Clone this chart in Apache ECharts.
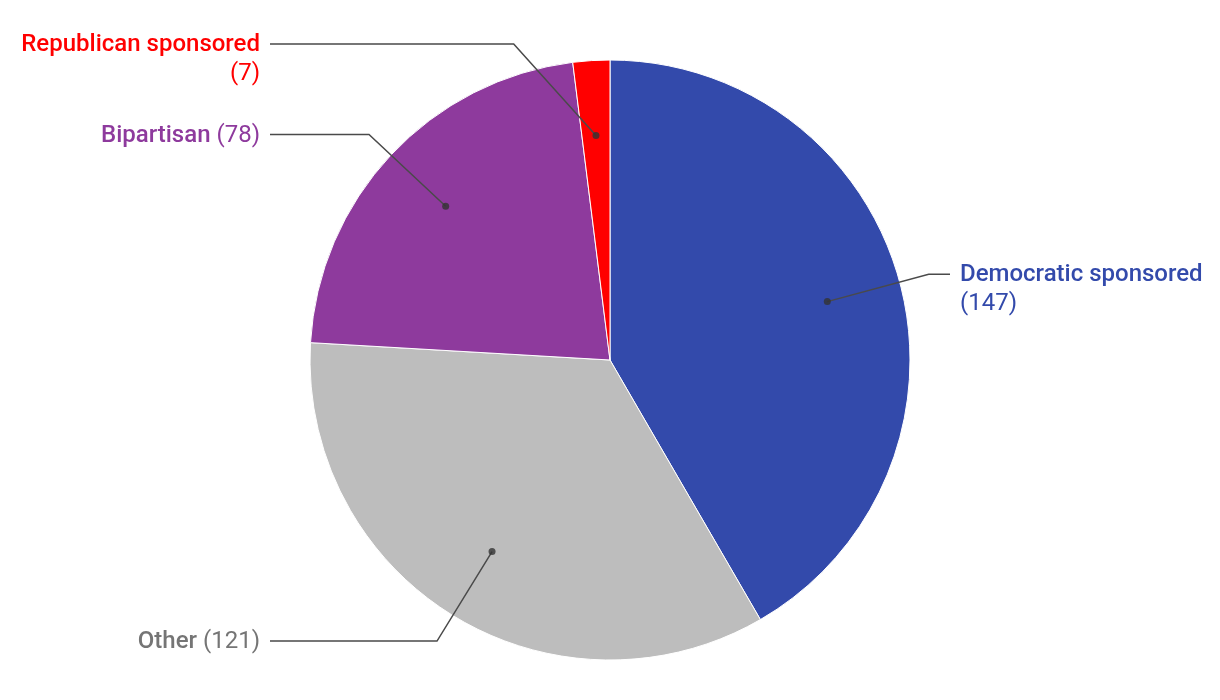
<!DOCTYPE html>
<html>
<head>
<meta charset="utf-8">
<script src="https://cdn.jsdelivr.net/npm/echarts@6/dist/echarts.min.js"></script>
<style>
  html, body { margin: 0; padding: 0; background: #ffffff; }
  #chart { width: 1220px; height: 700px; }
</style>
</head>
<body>
<div id="chart"></div>
<script>
// ---- data ----
const categories = ['Democratic sponsored', 'Other', 'Bipartisan', 'Republican sponsored'];
const values = [147, 121, 78, 7];
const sliceColors = ['#334AAB', '#BDBDBD', '#8E3A9D', '#FF0000'];
const labelColors = ['#334AAB', '#757575', '#8E3A9D', '#FF0000'];

// ---- layout / style constants ----
const CX = 610, CY = 360, R = 300;
const DOT_FRAC = 0.75;      // dot position as fraction of radius
const LEN1 = 105;           // first leader segment length
const LINE_REACH = 340;     // horizontal reach of leader end from centre
const TOP_LIMIT = 44;       // minimum y of leader elbow
const LH = 29;              // label line height
const FS = 24;              // label font size
const MAX_LABEL_W = 250;    // wrap label when wider than this
const NAME_WEIGHT = 500;
const FONT = 'Roboto, "Noto Sans", sans-serif';

const total = values.reduce((a, b) => a + b, 0);
const cum = [];
values.reduce((acc, v, i) => { cum[i] = acc; return acc + v; }, 0);
const mids = values.map((v, i) => cum[i] + v / 2);

const measureCtx = document.createElement('canvas').getContext('2d');
function textWidth(str, weight) {
  measureCtx.font = weight + ' ' + FS + 'px ' + FONT;
  return measureCtx.measureText(str).width;
}

const pieData = categories.map((name, i) => ({
  name: name,
  value: values[i],
  itemStyle: { color: sliceColors[i] },
  label: { color: labelColors[i] }
}));

const overlayData = categories.map((name, i) => ({
  name: name,
  value: values[i],
  label: { color: labelColors[i] }
}));

const chart = echarts.init(document.getElementById('chart'), null, { renderer: 'canvas' });

chart.setOption({
  backgroundColor: '#ffffff',
  animation: false,
  polar: { center: [CX, CY], radius: R },
  angleAxis: { type: 'value', min: 0, max: total, startAngle: 90, clockwise: true, show: false },
  radiusAxis: { type: 'value', min: 0, max: 1, show: false },
  series: [
    {
      type: 'pie',
      center: [CX, CY],
      radius: R,
      startAngle: 90,
      clockwise: true,
      silent: true,
      data: pieData,
      itemStyle: { borderColor: '#ffffff', borderWidth: 1 },
      label: { show: false },
      labelLine: { show: false },
      z: 1
    },
    {
      type: 'pie',
      center: [CX, CY],
      radius: R,
      startAngle: 90,
      clockwise: true,
      silent: true,
      data: overlayData,
      itemStyle: { color: 'rgba(0,0,0,0)', borderWidth: 0 },
      label: {
        show: true,
        fontFamily: FONT,
        fontSize: FS,
        lineHeight: LH,
        formatter: function (p) {
          const nameStr = p.name;
          const valStr = '(' + p.value + ')';
          const w = textWidth(nameStr, NAME_WEIGHT) + textWidth(' ' + valStr, 'normal');
          if (w > MAX_LABEL_W) {
            return '{n|' + nameStr + '}\n{v|' + valStr + '}';
          }
          return '{n|' + nameStr + '}{v| ' + valStr + '}';
        },
        rich: {
          n: { fontFamily: FONT, fontSize: FS, fontWeight: NAME_WEIGHT, lineHeight: LH },
          v: { fontFamily: FONT, fontSize: FS, fontWeight: 'normal', lineHeight: LH }
        }
      },
      labelLine: {
        show: true,
        length: 20,
        length2: 20,
        lineStyle: { color: '#4a4a4a', width: 1.5 }
      },
      labelLayout: function (p) {
        const i = p.dataIndex;
        const ang = mids[i] / total * 2 * Math.PI;
        const dx = Math.sin(ang), dy = -Math.cos(ang);
        const right = dx > 0;
        const sgn = right ? 1 : -1;
        const dotR = R * DOT_FRAC;
        const x0 = CX + dotR * dx, y0 = CY + dotR * dy;
        let x1 = x0 + LEN1 * dx, y1 = y0 + LEN1 * dy;
        if (y1 < TOP_LIMIT) {
          y1 = TOP_LIMIT;
          x1 = x0 + sgn * 0.9 * Math.abs(y0 - TOP_LIMIT);
        }
        const x2 = CX + sgn * LINE_REACH;
        return {
          x: x2 + sgn * 10,
          y: y1 - LH / 2 + 1,
          align: right ? 'left' : 'right',
          verticalAlign: 'top',
          labelLinePoints: [[x0, y0], [x1, y1], [x2, y1]]
        };
      },
      z: 3
    },
    {
      type: 'scatter',
      coordinateSystem: 'polar',
      silent: true,
      symbol: 'circle',
      symbolSize: 7,
      itemStyle: { color: '#333333' },
      data: mids.map(m => [DOT_FRAC, m]),
      z: 5
    }
  ]
});
</script>
</body>
</html>
